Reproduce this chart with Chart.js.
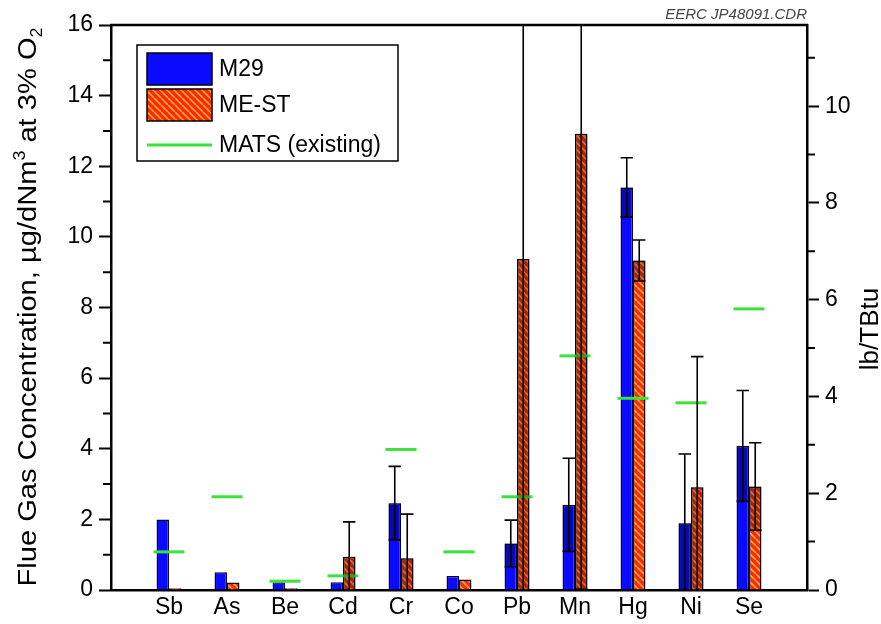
<!DOCTYPE html>
<html>
<head>
<meta charset="utf-8">
<script src="https://cdn.jsdelivr.net/npm/chart.js@4.4.1/dist/chart.umd.min.js"></script>
<style>
  html, body { margin: 0; padding: 0; background: #fff; }
</style>
</head>
<body>
<canvas id="metalsChart" width="881" height="624"></canvas>
<script>
// trace metals, ug/dNm3 at 3% O2
var elements = ["Sb", "As", "Be", "Cd", "Cr", "Co", "Pb", "Mn", "Hg", "Ni", "Se"];
var m29Data  = [2.00, 0.50, 0.22, 0.22, 2.46, 0.40, 1.32, 2.41, 11.40, 1.89, 4.08];
var m29Err   = [0, 0, 0, 0, 1.04, 0, 0.66, 1.32, 0.84, 1.96, 1.57];
var mestData = [0.05, 0.21, 0.05, 0.94, 0.90, 0.30, 9.37, 12.92, 9.33, 2.91, 2.93];
var mestErr  = [0, 0, 0, 0.99, 1.25, 0, 9.40, 12.90, 0.58, 3.70, 1.24];
var matsData = [1.08, 2.64, 0.25, 0.40, 3.98, 1.08, 2.64, 6.63, 5.43, 5.30, 7.96];

var ugMax = 16;
var ugPerLb = 1.37;   // ug/dNm3 per lb/TBtu, for the right axis

var FONT = '"Liberation Sans", Arial, sans-serif';

function points(values) {
     return values.map(function (v, i) { return { x: i, y: v }; });
}

function stripes() {
     var s = 7;
     var c = document.createElement('canvas');
     c.width = s; c.height = s;
     var g = c.getContext('2d');
     g.fillStyle = '#ff2800';
     g.fillRect(0, 0, s, s);
     g.strokeStyle = '#ffa838';
     g.lineWidth = 1.7;
     g.beginPath();
     [-s, 0, s].forEach(function (k) {
          g.moveTo(0, k);
          g.lineTo(s, k + s);
     });
     g.stroke();
     return g.createPattern(c, 'repeat');
}

var hatch = stripes();

// error bars: line + cap on top, darker band inside the bar for the lower half
var errorBars = {
     id: 'errorBars',
     afterDatasetsDraw: function (chart) {
          var ctx = chart.ctx, area = chart.chartArea, yScale = chart.scales.y;
          ctx.save();
          ctx.beginPath();
          ctx.rect(area.left, area.top - 1, area.width, area.height + 1);
          ctx.clip();
          chart.data.datasets.forEach(function (ds, di) {
               if (!ds.errors) return;
               chart.getDatasetMeta(di).data.forEach(function (bar, i) {
                    var e = ds.errors[i];
                    if (!e) return;
                    var v = ds.data[i].y;
                    var half = bar.width / 2;
                    var yTop = yScale.getPixelForValue(v + e);
                    var yLow = yScale.getPixelForValue(Math.max(v - e, 0));
                    ctx.fillStyle = 'rgba(0,0,30,0.28)';
                    ctx.fillRect(bar.x - half, bar.y, bar.width, yLow - bar.y);
                    ctx.strokeStyle = '#000';
                    ctx.lineWidth = 1.6;
                    ctx.beginPath();
                    ctx.moveTo(bar.x, yTop);
                    ctx.lineTo(bar.x, yLow);
                    ctx.moveTo(bar.x - half, yTop);
                    ctx.lineTo(bar.x + half, yTop);
                    if (v - e > 0) {
                         ctx.moveTo(bar.x - half, yLow);
                         ctx.lineTo(bar.x + half, yLow);
                    }
                    ctx.stroke();
               });
          });
          ctx.restore();
     }
};

// top frame, minor ticks, titles, legend box, file tag
var decorations = {
     id: 'decorations',
     afterDraw: function (chart) {
          var ctx = chart.ctx, area = chart.chartArea;
          var y = chart.scales.y, y2 = chart.scales.y2;
          ctx.save();
          ctx.strokeStyle = '#000';
          ctx.lineWidth = 2.5;
          ctx.beginPath();
          ctx.moveTo(area.left - 1, area.top);
          ctx.lineTo(area.right + 1, area.top);
          ctx.stroke();

          ctx.lineWidth = 2;
          ctx.beginPath();
          for (var v = 1; v < ugMax; v += 2) {
               var p = y.getPixelForValue(v);
               ctx.moveTo(area.left - 8, p);
               ctx.lineTo(area.left, p);
          }
          for (v = 1; v <= y2.max; v += 2) {
               p = y2.getPixelForValue(v);
               ctx.moveTo(area.right, p);
               ctx.lineTo(area.right + 8, p);
          }
          ctx.stroke();

          // left title with superscript / subscript, stretched to the axis length
          var parts = [
               ['Flue Gas Concentration, \u00b5g/dNm', 26, 0],
               ['3', 16, -11],
               [' at 3% O', 26, 0],
               ['2', 16, 6]
          ];
          var total = 0;
          parts.forEach(function (pt) {
               ctx.font = pt[1] + 'px ' + FONT;
               pt.push(ctx.measureText(pt[0]).width);
               total += pt[3];
          });
          var span = 559;
          ctx.save();
          ctx.translate(36, 307);
          ctx.rotate(-Math.PI / 2);
          ctx.scale(span / total, 1);
          ctx.fillStyle = '#000';
          ctx.textBaseline = 'alphabetic';
          ctx.textAlign = 'left';
          var x = -total / 2;
          parts.forEach(function (pt) {
               ctx.font = pt[1] + 'px ' + FONT;
               ctx.fillText(pt[0], x, pt[2]);
               x += pt[3];
          });
          ctx.restore();

          ctx.save();
          ctx.translate(878, 329);
          ctx.rotate(-Math.PI / 2);
          ctx.font = '26px ' + FONT;
          ctx.textAlign = 'center';
          ctx.fillStyle = '#000';
          ctx.fillText('lb/TBtu', 0, 0);
          ctx.restore();

          // legend
          var lx = area.left + 26, ly = area.top + 20;
          ctx.lineWidth = 1.5;
          ctx.strokeStyle = '#000';
          ctx.strokeRect(lx, ly, 261, 116);
          ctx.font = '23px ' + FONT;
          ctx.textBaseline = 'middle';
          ctx.textAlign = 'left';
          chart.data.datasets.forEach(function (ds, i) {
               var cy = ly + 24 + i * 36;
               if (ds.type === 'scatter') {
                    cy += 4;
                    ctx.strokeStyle = ds.borderColor;
                    ctx.lineWidth = 3;
                    ctx.beginPath();
                    ctx.moveTo(lx + 10, cy);
                    ctx.lineTo(lx + 75, cy);
                    ctx.stroke();
               } else {
                    ctx.fillStyle = ds.backgroundColor;
                    ctx.fillRect(lx + 10, cy - 16, 65, 32);
                    ctx.strokeStyle = '#000';
                    ctx.lineWidth = 1.5;
                    ctx.strokeRect(lx + 10, cy - 16, 65, 32);
               }
               ctx.fillStyle = '#000';
               ctx.fillText(ds.label, lx + 82, cy + 1);
          });

          ctx.font = 'italic 15px ' + FONT;
          ctx.fillStyle = '#444';
          ctx.textAlign = 'right';
          ctx.textBaseline = 'alphabetic';
          ctx.fillText('EERC JP48091.CDR', area.right, area.top - 6);
          ctx.restore();
     }
};

var tickFont = { family: FONT, size: 23 };

new Chart('metalsChart', {
     type: 'bar',
     data: {
          datasets: [
               {
                    label: 'M29',
                    data: points(m29Data),
                    errors: m29Err,
                    backgroundColor: '#0a0aff',
                    borderColor: '#000040',
                    borderWidth: 1.5,
                    order: 1
               },
               {
                    label: 'ME-ST',
                    data: points(mestData),
                    errors: mestErr,
                    backgroundColor: hatch,
                    borderColor: '#1a0000',
                    borderWidth: 1.5,
                    order: 1
               },
               {
                    type: 'scatter',
                    label: 'MATS (existing)',
                    data: points(matsData),
                    pointStyle: 'line',
                    radius: 15.5,
                    borderColor: '#3ae23a',
                    borderWidth: 3,
                    order: 0
               }
          ]
     },
     options: {
          responsive: false,
          animation: false,
          events: [],
          layout: { padding: { top: 25, left: 0, right: 0, bottom: 0 } },
          categoryPercentage: 0.43,
          barPercentage: 1,
          plugins: {
               legend: { display: false },
               tooltip: { enabled: false }
          },
          scales: {
               x: {
                    type: 'linear',
                    min: -1,
                    max: 11,
                    offset: false,
                    grid: { display: false, drawTicks: false, offset: false },
                    border: { display: true, color: '#000', width: 2.5 },
                    ticks: {
                         stepSize: 1,
                         autoSkip: false,
                         maxRotation: 0,
                         padding: 4,
                         color: '#000',
                         font: tickFont,
                         callback: function (v) { return elements[v] || ''; }
                    },
                    afterFit: function (s) { s.height = 34; }
               },
               y: {
                    position: 'left',
                    min: 0,
                    max: ugMax,
                    grid: { drawOnChartArea: false, tickLength: 12, tickWidth: 2, tickColor: '#000' },
                    border: { color: '#000', width: 2.5 },
                    ticks: { stepSize: 2, padding: 6, color: '#000', font: tickFont },
                    afterFit: function (s) { s.width = 111; }
               },
               y2: {
                    position: 'right',
                    min: 0,
                    max: ugMax / ugPerLb,
                    grid: { drawOnChartArea: false, tickLength: 12, tickWidth: 2, tickColor: '#000' },
                    border: { color: '#000', width: 2.5 },
                    ticks: { stepSize: 2, includeBounds: false, padding: 6, color: '#000', font: tickFont },
                    afterFit: function (s) { s.width = 74; }
               }
          }
     },
     plugins: [errorBars, decorations]
});
</script>
</body>
</html>
